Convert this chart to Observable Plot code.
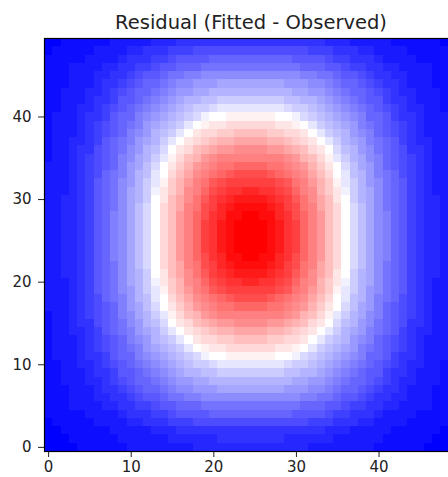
<!DOCTYPE html>
<html>
<head>
<meta charset="utf-8">
<script src="https://cdn.jsdelivr.net/npm/d3@7"></script>
<script src="https://cdn.jsdelivr.net/npm/@observablehq/plot@0.6"></script>
<style>
  html, body { margin: 0; padding: 0; background: #fff; }
  #chart { width: 448px; height: 477px; overflow: hidden; }
</style>
</head>
<body>
<div id="chart"></div>
<script>
// Residual image, 50 x 50 cells. residual[y][x]; row 0 is the bottom row.
// Values are on a -20 .. 20 scale (negative = fitted below observed).
const title = "Residual (Fitted - Observed)";
const xTicks = [0, 10, 20, 30, 40];
const yTicks = [0, 10, 20, 30, 40];
const residual = [
  [-20,-20,-20,-20,-19,-19,-19,-19,-19,-19,-18,-18,-18,-18,-18,-18,-18,-18,-17,-17,-17,-17,-17,-17,-17,-17,-17,-17,-17,-17,-17,-17,-18,-18,-18,-18,-18,-18,-18,-18,-19,-19,-19,-19,-19,-19,-20,-20,-20,-20],
  [-20,-20,-20,-19,-19,-19,-19,-19,-19,-18,-18,-18,-18,-18,-18,-17,-17,-17,-17,-17,-17,-16,-16,-16,-16,-16,-16,-16,-16,-17,-17,-17,-17,-17,-17,-18,-18,-18,-18,-18,-18,-19,-19,-19,-19,-19,-19,-20,-20,-20],
  [-20,-20,-19,-19,-19,-19,-19,-19,-18,-18,-18,-18,-18,-17,-17,-17,-16,-16,-16,-16,-16,-16,-16,-16,-16,-16,-16,-16,-16,-16,-16,-16,-16,-16,-17,-17,-17,-18,-18,-18,-18,-18,-19,-19,-19,-19,-19,-19,-20,-20],
  [-20,-19,-19,-19,-19,-19,-18,-18,-18,-18,-17,-17,-16,-16,-16,-15,-15,-15,-14,-14,-14,-14,-14,-14,-14,-14,-14,-14,-14,-14,-14,-14,-15,-15,-15,-16,-16,-16,-17,-17,-18,-18,-18,-18,-19,-19,-19,-19,-19,-20],
  [-19,-19,-19,-19,-19,-18,-18,-18,-18,-17,-16,-16,-16,-15,-15,-14,-13,-13,-13,-13,-12,-12,-12,-12,-12,-12,-12,-12,-12,-12,-13,-13,-13,-13,-14,-15,-15,-16,-16,-16,-17,-18,-18,-18,-18,-19,-19,-19,-19,-19],
  [-19,-19,-19,-18,-18,-18,-18,-17,-17,-16,-16,-15,-15,-14,-13,-13,-12,-12,-12,-11,-11,-11,-11,-11,-11,-11,-11,-11,-11,-11,-11,-12,-12,-12,-13,-13,-14,-15,-15,-16,-16,-17,-17,-18,-18,-18,-18,-19,-19,-19],
  [-19,-19,-19,-18,-18,-18,-17,-17,-16,-16,-15,-14,-13,-13,-12,-11,-11,-10,-10,-9,-9,-9,-9,-9,-9,-9,-9,-9,-9,-9,-9,-10,-10,-11,-11,-12,-13,-13,-14,-15,-16,-16,-17,-17,-18,-18,-18,-19,-19,-19],
  [-19,-19,-19,-18,-18,-18,-17,-16,-16,-15,-14,-13,-12,-12,-11,-10,-9,-9,-8,-8,-8,-7,-7,-7,-7,-7,-7,-7,-7,-8,-8,-8,-9,-9,-10,-11,-12,-12,-13,-14,-15,-16,-16,-17,-18,-18,-18,-19,-19,-19],
  [-19,-19,-18,-18,-18,-17,-17,-16,-15,-14,-13,-12,-12,-11,-10,-9,-8,-8,-7,-7,-6,-6,-6,-6,-6,-6,-6,-6,-6,-6,-7,-7,-8,-8,-9,-10,-11,-12,-12,-13,-14,-15,-16,-17,-17,-18,-18,-18,-19,-19],
  [-19,-19,-18,-18,-18,-17,-16,-16,-15,-13,-13,-12,-11,-10,-9,-8,-7,-6,-6,-5,-5,-4,-4,-4,-4,-4,-4,-4,-4,-5,-5,-6,-6,-7,-8,-9,-10,-11,-12,-13,-13,-15,-16,-16,-17,-18,-18,-18,-19,-19],
  [-19,-19,-18,-18,-17,-17,-16,-15,-14,-13,-12,-11,-10,-9,-8,-7,-6,-5,-4,-4,-3,-2,-2,-2,-2,-2,-2,-2,-2,-3,-4,-4,-5,-6,-7,-8,-9,-10,-11,-12,-13,-14,-15,-16,-17,-17,-18,-18,-19,-19],
  [-19,-18,-18,-18,-17,-16,-16,-15,-13,-12,-12,-10,-9,-8,-7,-6,-5,-4,-3,-1,0,0,1,1,1,1,1,1,0,0,-1,-3,-4,-5,-6,-7,-8,-9,-10,-12,-12,-13,-15,-16,-16,-17,-18,-18,-18,-19],
  [-19,-18,-18,-18,-17,-16,-15,-14,-13,-12,-11,-10,-8,-7,-6,-5,-4,-2,0,1,2,2,3,3,3,3,3,3,2,2,1,0,-2,-4,-5,-6,-7,-8,-10,-11,-12,-13,-14,-15,-16,-17,-18,-18,-18,-19],
  [-19,-18,-18,-18,-17,-16,-15,-14,-13,-12,-10,-9,-8,-6,-5,-4,-2,0,2,3,3,4,4,5,5,5,5,4,4,3,3,2,0,-2,-4,-5,-6,-8,-9,-10,-12,-13,-14,-15,-16,-17,-18,-18,-18,-19],
  [-19,-18,-18,-17,-17,-16,-15,-13,-12,-11,-10,-8,-7,-6,-4,-2,0,2,3,4,5,6,6,7,7,7,7,6,6,5,4,3,2,0,-2,-4,-6,-7,-8,-10,-11,-12,-13,-15,-16,-17,-17,-18,-18,-19],
  [-19,-18,-18,-17,-16,-16,-14,-13,-12,-11,-9,-8,-6,-5,-3,0,2,3,5,6,7,8,8,9,9,9,9,8,8,7,6,5,3,2,0,-3,-5,-6,-8,-9,-11,-12,-13,-14,-16,-16,-17,-18,-18,-19],
  [-19,-18,-18,-17,-16,-15,-14,-13,-12,-10,-9,-7,-6,-4,-2,1,3,5,6,8,9,10,10,10,10,10,10,10,10,9,8,6,5,3,1,-2,-4,-6,-7,-9,-10,-12,-13,-14,-15,-16,-17,-18,-18,-19],
  [-18,-18,-18,-17,-16,-15,-14,-13,-12,-10,-8,-7,-5,-3,0,2,4,6,8,9,10,11,11,12,12,12,12,11,11,10,9,8,6,4,2,0,-3,-5,-7,-8,-10,-12,-13,-14,-15,-16,-17,-18,-18,-18],
  [-18,-18,-18,-17,-16,-15,-14,-12,-11,-10,-8,-6,-5,-2,0,3,5,7,9,10,11,12,13,14,14,14,14,13,12,11,10,9,7,5,3,0,-2,-5,-6,-8,-10,-11,-12,-14,-15,-16,-17,-18,-18,-18],
  [-18,-18,-18,-17,-16,-15,-13,-12,-11,-9,-8,-6,-4,-2,1,4,6,8,10,11,13,14,15,15,15,15,15,15,14,13,11,10,8,6,4,1,-2,-4,-6,-8,-9,-11,-12,-13,-15,-16,-17,-18,-18,-18],
  [-18,-18,-18,-17,-16,-15,-13,-12,-11,-9,-7,-6,-4,-1,2,4,6,9,10,12,14,15,16,16,17,17,16,16,15,14,12,10,9,6,4,2,-1,-4,-6,-7,-9,-11,-12,-13,-15,-16,-17,-18,-18,-18],
  [-18,-18,-17,-17,-16,-15,-13,-12,-11,-9,-7,-6,-4,0,2,5,7,9,11,13,15,16,17,18,18,18,18,17,16,15,13,11,9,7,5,2,0,-4,-6,-7,-9,-11,-12,-13,-15,-16,-17,-17,-18,-18],
  [-18,-18,-17,-17,-16,-15,-13,-12,-11,-9,-7,-5,-3,0,3,5,7,10,11,14,15,17,18,19,19,19,19,18,17,15,14,11,10,7,5,3,0,-3,-5,-7,-9,-11,-12,-13,-15,-16,-17,-17,-18,-18],
  [-18,-18,-17,-17,-16,-15,-13,-12,-10,-9,-7,-5,-3,0,3,5,8,10,12,14,16,17,19,19,20,20,19,19,17,16,14,12,10,8,5,3,0,-3,-5,-7,-9,-10,-12,-13,-15,-16,-17,-17,-18,-18],
  [-18,-18,-17,-17,-16,-15,-13,-12,-10,-9,-7,-5,-3,0,3,5,8,10,12,15,16,18,19,20,20,20,20,19,18,16,15,12,10,8,5,3,0,-3,-5,-7,-9,-10,-12,-13,-15,-16,-17,-17,-18,-18],
  [-18,-18,-17,-17,-16,-15,-13,-12,-10,-9,-7,-5,-3,0,3,5,8,10,12,15,16,18,19,20,20,20,20,19,18,16,15,12,10,8,5,3,0,-3,-5,-7,-9,-10,-12,-13,-15,-16,-17,-17,-18,-18],
  [-18,-18,-17,-17,-16,-15,-13,-12,-10,-9,-7,-5,-3,0,3,5,8,10,12,15,16,18,19,20,20,20,20,19,18,16,15,12,10,8,5,3,0,-3,-5,-7,-9,-10,-12,-13,-15,-16,-17,-17,-18,-18],
  [-18,-18,-17,-17,-16,-15,-13,-12,-10,-9,-7,-5,-3,0,3,5,8,10,12,15,16,18,19,20,20,20,20,19,18,16,15,12,10,8,5,3,0,-3,-5,-7,-9,-10,-12,-13,-15,-16,-17,-17,-18,-18],
  [-18,-18,-17,-17,-16,-15,-13,-12,-10,-9,-7,-5,-3,0,3,5,8,10,12,14,16,17,19,19,20,20,19,19,17,16,14,12,10,8,5,3,0,-3,-5,-7,-9,-10,-12,-13,-15,-16,-17,-17,-18,-18],
  [-18,-18,-17,-17,-16,-15,-13,-12,-11,-9,-7,-5,-3,0,3,5,7,10,11,14,15,17,18,19,19,19,19,18,17,15,14,11,10,7,5,3,0,-3,-5,-7,-9,-11,-12,-13,-15,-16,-17,-17,-18,-18],
  [-18,-18,-17,-17,-16,-15,-13,-12,-11,-9,-7,-6,-4,0,2,5,7,9,11,13,15,16,17,18,18,18,18,17,16,15,13,11,9,7,5,2,0,-4,-6,-7,-9,-11,-12,-13,-15,-16,-17,-17,-18,-18],
  [-18,-18,-18,-17,-16,-15,-13,-12,-11,-9,-7,-6,-4,-1,2,4,6,9,10,12,14,15,16,16,17,17,16,16,15,14,12,10,9,6,4,2,-1,-4,-6,-7,-9,-11,-12,-13,-15,-16,-17,-18,-18,-18],
  [-18,-18,-18,-17,-16,-15,-13,-12,-11,-9,-8,-6,-4,-2,1,4,6,8,10,11,13,14,15,15,15,15,15,15,14,13,11,10,8,6,4,1,-2,-4,-6,-8,-9,-11,-12,-13,-15,-16,-17,-18,-18,-18],
  [-18,-18,-18,-17,-16,-15,-14,-12,-11,-10,-8,-6,-5,-2,0,3,5,7,9,10,11,12,13,14,14,14,14,13,12,11,10,9,7,5,3,0,-2,-5,-6,-8,-10,-11,-12,-14,-15,-16,-17,-18,-18,-18],
  [-18,-18,-18,-17,-16,-15,-14,-13,-12,-10,-8,-7,-5,-3,0,2,4,6,8,9,10,11,11,12,12,12,12,11,11,10,9,8,6,4,2,0,-3,-5,-7,-8,-10,-12,-13,-14,-15,-16,-17,-18,-18,-18],
  [-19,-18,-18,-17,-16,-15,-14,-13,-12,-10,-9,-7,-6,-4,-2,1,3,5,6,8,9,10,10,10,10,10,10,10,10,9,8,6,5,3,1,-2,-4,-6,-7,-9,-10,-12,-13,-14,-15,-16,-17,-18,-18,-19],
  [-19,-18,-18,-17,-16,-16,-14,-13,-12,-11,-9,-8,-6,-5,-3,0,2,3,5,6,7,8,8,9,9,9,9,8,8,7,6,5,3,2,0,-3,-5,-6,-8,-9,-11,-12,-13,-14,-16,-16,-17,-18,-18,-19],
  [-19,-18,-18,-17,-17,-16,-15,-13,-12,-11,-10,-8,-7,-6,-4,-2,0,2,3,4,5,6,6,7,7,7,7,6,6,5,4,3,2,0,-2,-4,-6,-7,-8,-10,-11,-12,-13,-15,-16,-17,-17,-18,-18,-19],
  [-19,-18,-18,-18,-17,-16,-15,-14,-13,-12,-10,-9,-8,-6,-5,-4,-2,0,2,3,3,4,4,5,5,5,5,4,4,3,3,2,0,-2,-4,-5,-6,-8,-9,-10,-12,-13,-14,-15,-16,-17,-18,-18,-18,-19],
  [-19,-18,-18,-18,-17,-16,-15,-14,-13,-12,-11,-10,-8,-7,-6,-5,-4,-2,0,1,2,2,3,3,3,3,3,3,2,2,1,0,-2,-4,-5,-6,-7,-8,-10,-11,-12,-13,-14,-15,-16,-17,-18,-18,-18,-19],
  [-19,-18,-18,-18,-17,-16,-16,-15,-13,-12,-12,-10,-9,-8,-7,-6,-5,-4,-3,-1,0,0,1,1,1,1,1,1,0,0,-1,-3,-4,-5,-6,-7,-8,-9,-10,-12,-12,-13,-15,-16,-16,-17,-18,-18,-18,-19],
  [-19,-19,-18,-18,-17,-17,-16,-15,-14,-13,-12,-11,-10,-9,-8,-7,-6,-5,-4,-4,-3,-2,-2,-2,-2,-2,-2,-2,-2,-3,-4,-4,-5,-6,-7,-8,-9,-10,-11,-12,-13,-14,-15,-16,-17,-17,-18,-18,-19,-19],
  [-19,-19,-18,-18,-18,-17,-16,-16,-15,-13,-13,-12,-11,-10,-9,-8,-7,-6,-6,-5,-5,-4,-4,-4,-4,-4,-4,-4,-4,-5,-5,-6,-6,-7,-8,-9,-10,-11,-12,-13,-13,-15,-16,-16,-17,-18,-18,-18,-19,-19],
  [-19,-19,-18,-18,-18,-17,-17,-16,-15,-14,-13,-12,-12,-11,-10,-9,-8,-8,-7,-7,-6,-6,-6,-6,-6,-6,-6,-6,-6,-6,-7,-7,-8,-8,-9,-10,-11,-12,-12,-13,-14,-15,-16,-17,-17,-18,-18,-18,-19,-19],
  [-19,-19,-19,-18,-18,-18,-17,-16,-16,-15,-14,-13,-12,-12,-11,-10,-9,-9,-8,-8,-8,-7,-7,-7,-7,-7,-7,-7,-7,-8,-8,-8,-9,-9,-10,-11,-12,-12,-13,-14,-15,-16,-16,-17,-18,-18,-18,-19,-19,-19],
  [-19,-19,-19,-18,-18,-18,-17,-17,-16,-16,-15,-14,-13,-13,-12,-11,-11,-10,-10,-9,-9,-9,-9,-9,-9,-9,-9,-9,-9,-9,-9,-10,-10,-11,-11,-12,-13,-13,-14,-15,-16,-16,-17,-17,-18,-18,-18,-19,-19,-19],
  [-19,-19,-19,-18,-18,-18,-18,-17,-17,-16,-16,-15,-15,-14,-13,-13,-12,-12,-12,-11,-11,-11,-11,-11,-11,-11,-11,-11,-11,-11,-11,-12,-12,-12,-13,-13,-14,-15,-15,-16,-16,-17,-17,-18,-18,-18,-18,-19,-19,-19],
  [-19,-19,-19,-19,-19,-18,-18,-18,-18,-17,-16,-16,-16,-15,-15,-14,-13,-13,-13,-13,-12,-12,-12,-12,-12,-12,-12,-12,-12,-12,-13,-13,-13,-13,-14,-15,-15,-16,-16,-16,-17,-18,-18,-18,-18,-19,-19,-19,-19,-19],
  [-20,-19,-19,-19,-19,-19,-18,-18,-18,-18,-17,-17,-16,-16,-16,-15,-15,-15,-14,-14,-14,-14,-14,-14,-14,-14,-14,-14,-14,-14,-14,-14,-15,-15,-15,-16,-16,-16,-17,-17,-18,-18,-18,-18,-19,-19,-19,-19,-19,-20],
  [-20,-20,-19,-19,-19,-19,-19,-19,-18,-18,-18,-18,-18,-17,-17,-17,-16,-16,-16,-16,-16,-16,-16,-16,-16,-16,-16,-16,-16,-16,-16,-16,-16,-16,-17,-17,-17,-18,-18,-18,-18,-18,-19,-19,-19,-19,-19,-19,-20,-20]
];

// One record per cell: column, row and residual value.
const cells = residual.flatMap((row, y) => row.map((v, x) => ({x, y, v})));

const chart = Plot.plot({
  width: 448,
  height: 477,
  marginLeft: 44,
  marginRight: -9,
  marginTop: 38,
  marginBottom: 26,
  style: {fontFamily: "DejaVu Sans", fontSize: "15px", color: "#222", background: "#fff"},
  x: {domain: [-0.5, 49.5], ticks: xTicks, tickSize: 6, tickPadding: 4, label: null},
  y: {domain: [-0.5, 49.5], ticks: yTicks, tickSize: 6, tickPadding: 7, label: null},
  color: {type: "linear", domain: [-20, 0, 20], range: ["#0000ff", "#ffffff", "#ff0000"], interpolate: "rgb"},
  marks: [
    Plot.rect(cells, {
      x1: d => d.x - 0.5, x2: d => d.x + 0.5,
      y1: d => d.y - 0.5, y2: d => d.y + 0.5,
      fill: "v",
      shapeRendering: "crispEdges"
    }),
    Plot.frame({stroke: "#000", strokeWidth: 1.2}),
    Plot.text([title], {
      text: d => d,
      frameAnchor: "top",
      lineAnchor: "bottom",
      dy: -10,
      fontSize: 19.5,
      fill: "#222"
    })
  ]
});
document.getElementById("chart").append(chart);
</script>
</body>
</html>
